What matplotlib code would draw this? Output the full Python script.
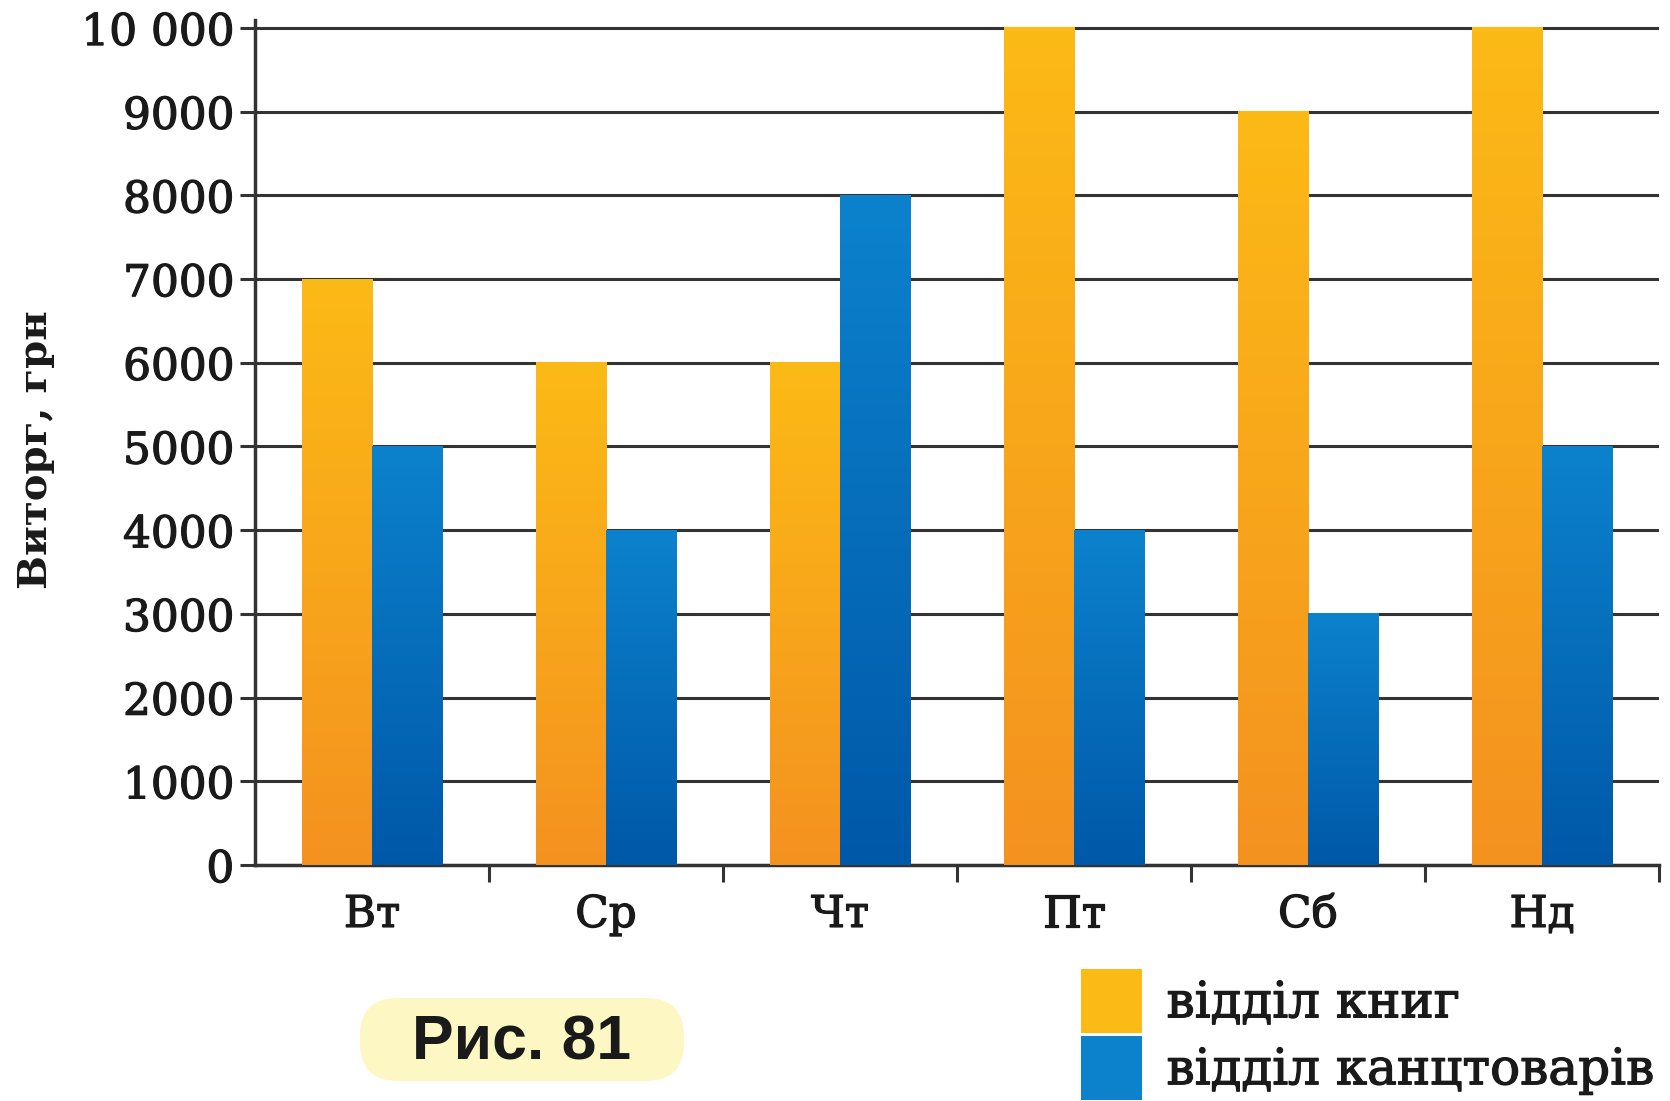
import numpy as np
import matplotlib.pyplot as plt
import matplotlib.patheffects as pe
from matplotlib.patches import FancyBboxPatch, Patch
from matplotlib.colors import LinearSegmentedColormap

# data
days = ["Вт", "Ср", "Чт", "Пт", "Сб", "Нд"]
books = [7000, 6000, 6000, 10000, 9000, 10000]
stationery = [5000, 4000, 8000, 4000, 3000, 5000]
series_labels = ["відділ книг", "відділ канцтоварів"]
y_ticks = [0, 1000, 2000, 3000, 4000, 5000, 6000, 7000, 8000, 9000, 10000]
y_tick_labels = ["0", "1000", "2000", "3000", "4000", "5000", "6000", "7000", "8000", "9000", "10 000"]
y_title = "Виторг, грн"
fig_label = "Рис. 81"

W, H = 1670, 1101
orange_top, orange_bot = "#fcba16", "#f49220"
blue_top, blue_bot = "#0c82cd", "#0058a8"
grid_col = "#333333"
txt_col = "#1a1a1a"
serif = "DejaVu Serif"
thick = [pe.withStroke(linewidth=0.9, foreground=txt_col)]

fig = plt.figure(figsize=(W / 100, H / 100), dpi=100)
ax = fig.add_axes([255 / W, 1 - 865 / H, 1404 / W, 845.4 / H])

x = np.arange(len(days)) + 0.5
bw = 0.3
b1 = ax.bar(x - bw / 2, books, bw, color=orange_bot, zorder=3)
b2 = ax.bar(x + bw / 2, stationery, bw, color=blue_bot, zorder=3)


def gradient_fill(bars, top, bot):
    cmap = LinearSegmentedColormap.from_list("g", [bot, top])
    grad = np.linspace(0, 1, 256).reshape(-1, 1)
    for b in bars:
        bx, by = b.get_x(), b.get_y()
        w, h = b.get_width(), b.get_height()
        ax.imshow(grad, cmap=cmap, origin="lower", aspect="auto",
                  extent=[bx, bx + w, by, by + h], zorder=4)


gradient_fill(b1, orange_top, orange_bot)
gradient_fill(b2, blue_top, blue_bot)

ax.set_xlim(0, len(days))
ax.set_ylim(0, 10100)

ax.set_yticks(y_ticks)
ax.set_yticklabels(y_tick_labels, family=serif, fontsize=31.5, color=txt_col)
ax.yaxis.grid(True, color=grid_col, linewidth=2.2, zorder=1)
ax.set_axisbelow(True)

ax.set_xticks(x)
ax.set_xticklabels(days, family=serif, fontsize=31.5, color=txt_col)
ax.set_xticks(np.arange(1, len(days) + 1), minor=True)
ax.tick_params(axis="x", which="major", length=0, pad=20)
ax.tick_params(axis="x", which="minor", length=12, width=2.2, color=grid_col, direction="out")
ax.tick_params(axis="y", length=11, width=2.2, color=grid_col, pad=4)
for t in ax.get_xticklabels() + ax.get_yticklabels():
    t.set_path_effects(thick)

for s in ["top", "right"]:
    ax.spines[s].set_visible(False)
ax.spines["left"].set_linewidth(2.5)
ax.spines["left"].set_color(grid_col)
ax.spines["bottom"].set_linewidth(2.5)
ax.spines["bottom"].set_color(grid_col)

fig.text(36 / W, 1 - 450 / H, y_title, rotation=90, ha="center", va="center",
         family=serif, fontweight="bold", fontsize=29, color=txt_col)

# legend
handles = [Patch(facecolor=orange_top, edgecolor="none"),
           Patch(facecolor=blue_top, edgecolor="none")]
leg = fig.legend(handles, series_labels, loc="upper left",
                 bbox_to_anchor=(1081 / W, 1 - 969 / H), frameon=False,
                 borderpad=0, borderaxespad=0, handlelength=1.22, handleheight=1.59,
                 handletextpad=0.49, labelspacing=0.06,
                 prop={"family": serif, "size": 36})
for t in leg.get_texts():
    t.set_color(txt_col)
    t.set_path_effects(thick)

# figure caption box
box = FancyBboxPatch((3.60, 0.20), 3.24, 0.83, boxstyle="round,pad=0,rounding_size=0.38",
                     transform=fig.dpi_scale_trans, facecolor="#fdf7c4", edgecolor="none")
fig.add_artist(box)
fig.text(522 / W, 1 - 1043 / H, fig_label, ha="center", va="center",
         family="Liberation Sans", fontweight="bold", fontsize=45, color=txt_col)

fig.savefig("out.png", dpi=100)
